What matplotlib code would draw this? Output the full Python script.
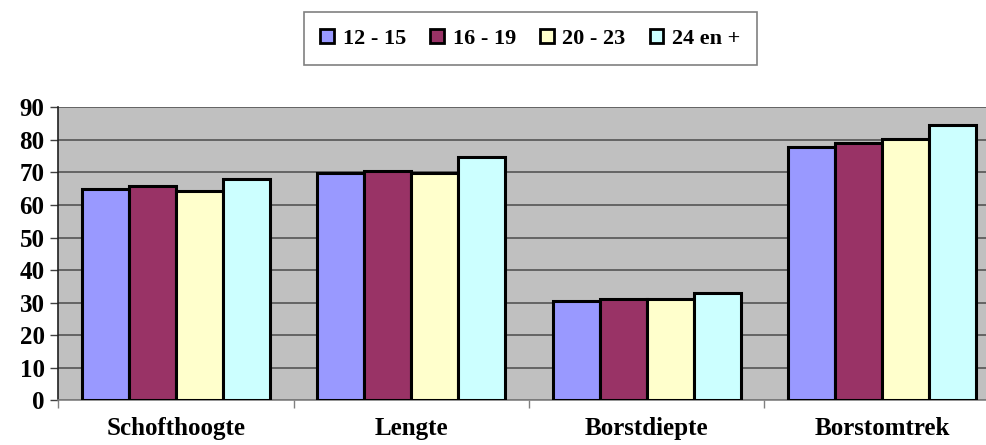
import numpy as np
from matplotlib import pyplot as plt
from matplotlib.patches import Patch

categories = ["Schofthoogte", "Lengte", "Borstdiepte", "Borstomtrek"]
series_labels = ["12 - 15", "16 - 19", "20 - 23", "24 en +"]
age_12_15 = [64.8, 69.7, 30.6, 77.7]
age_16_19 = [65.9, 70.4, 31.2, 79.1]
age_20_23 = [64.2, 69.7, 31.2, 80.4]
age_24_plus = [68.0, 74.6, 33.0, 84.5]
y_ticks = list(range(0, 100, 10))

COLORS = ["#9999FF", "#993366", "#FFFFCC", "#CCFFFF"]
FONT = "Liberation Serif"

plt.rcParams["font.family"] = FONT
plt.rcParams["font.weight"] = "bold"

fig = plt.figure(figsize=(9.87, 4.45), dpi=100)
# plot area runs past the right edge of the picture, as in the reference
ax = fig.add_axes([58.5 / 987, 44.7 / 445, 941.0 / 987, 293.0 / 445])
ax.set_facecolor("#C0C0C0")

x = np.arange(len(categories))
width = 0.2
all_series = [age_12_15, age_16_19, age_20_23, age_24_plus]
for i, (vals, color) in enumerate(zip(all_series, COLORS)):
    ax.bar(
        x + (i - 1.5) * width, vals, width=width, color=color,
        edgecolor="black", linewidth=2.2, zorder=3,
    )

ax.set_ylim(0, 90)
ax.set_xlim(-0.5, len(categories) - 0.5)
ax.set_yticks(y_ticks)
ax.set_yticklabels([str(t) for t in y_ticks], fontsize=18, fontweight="bold")
ax.yaxis.grid(True, color="#555555", linewidth=1.2, zorder=1)

ax.set_xticks(np.arange(len(categories) + 1) - 0.5)
ax.set_xticklabels([])
ax.set_xticks(x, minor=True)
ax.set_xticklabels(categories, minor=True, fontsize=18, fontweight="bold")
ax.tick_params(axis="x", which="minor", length=0, pad=12)
ax.tick_params(axis="x", which="major", length=6, color="#808080", width=1)
ax.tick_params(axis="y", length=6, color="#404040", width=1, pad=4)

for side in ["top", "right"]:
    ax.spines[side].set_visible(False)
ax.spines["left"].set_color("#202020")
ax.spines["left"].set_linewidth(1.2)
ax.spines["bottom"].set_color("#808080")
ax.spines["bottom"].set_linewidth(1.2)

handles = [Patch(facecolor=c, edgecolor="black", linewidth=2) for c in COLORS]
leg = fig.legend(
    handles, series_labels, loc="upper center", bbox_to_anchor=(530.5 / 987, 1 - 12 / 445),
    ncol=4, frameon=True, fancybox=False, handlelength=0.6, borderaxespad=0,
    handleheight=0.6, handletextpad=0.4, columnspacing=1.1, borderpad=0.75,
    prop={"family": FONT, "weight": "bold", "size": 16},
)
leg.get_frame().set_edgecolor("#606060")
leg.get_frame().set_linewidth(1.2)

fig.savefig("out.png", dpi=100)
